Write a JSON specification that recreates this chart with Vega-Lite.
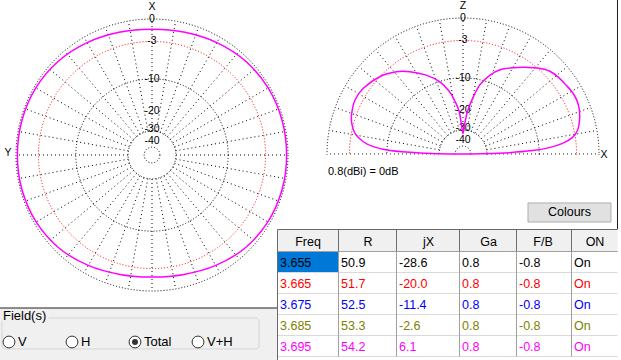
{
  "$schema": "https://vega.github.io/schema/vega-lite/v6.json",
  "width": 621,
  "height": 360,
  "autosize": {"type": "none"},
  "padding": 0,
  "background": "#ffffff",
  "config": {"view": {"stroke": null}},
  "datasets": {
    "spokes": [
      {"deg": 0, "x0": 0, "y0": 0, "x": 1, "y": 0}, {"deg": 10, "x0": 0, "y0": 0, "x": 0.9848, "y": 0.1736}, {"deg": 20, "x0": 0, "y0": 0, "x": 0.9397, "y": 0.342},
      {"deg": 30, "x0": 0, "y0": 0, "x": 0.866, "y": 0.5}, {"deg": 40, "x0": 0, "y0": 0, "x": 0.766, "y": 0.6428}, {"deg": 50, "x0": 0, "y0": 0, "x": 0.6428, "y": 0.766},
      {"deg": 60, "x0": 0, "y0": 0, "x": 0.5, "y": 0.866}, {"deg": 70, "x0": 0, "y0": 0, "x": 0.342, "y": 0.9397}, {"deg": 80, "x0": 0, "y0": 0, "x": 0.1736, "y": 0.9848},
      {"deg": 90, "x0": 0, "y0": 0, "x": 0, "y": 1}, {"deg": 100, "x0": 0, "y0": 0, "x": -0.1736, "y": 0.9848}, {"deg": 110, "x0": 0, "y0": 0, "x": -0.342, "y": 0.9397},
      {"deg": 120, "x0": 0, "y0": 0, "x": -0.5, "y": 0.866}, {"deg": 130, "x0": 0, "y0": 0, "x": -0.6428, "y": 0.766}, {"deg": 140, "x0": 0, "y0": 0, "x": -0.766, "y": 0.6428},
      {"deg": 150, "x0": 0, "y0": 0, "x": -0.866, "y": 0.5}, {"deg": 160, "x0": 0, "y0": 0, "x": -0.9397, "y": 0.342}, {"deg": 170, "x0": 0, "y0": 0, "x": -0.9848, "y": 0.1736},
      {"deg": 180, "x0": 0, "y0": 0, "x": -1, "y": 0}, {"deg": 190, "x0": 0, "y0": 0, "x": -0.9848, "y": -0.1736}, {"deg": 200, "x0": 0, "y0": 0, "x": -0.9397, "y": -0.342},
      {"deg": 210, "x0": 0, "y0": 0, "x": -0.866, "y": -0.5}, {"deg": 220, "x0": 0, "y0": 0, "x": -0.766, "y": -0.6428}, {"deg": 230, "x0": 0, "y0": 0, "x": -0.6428, "y": -0.766},
      {"deg": 240, "x0": 0, "y0": 0, "x": -0.5, "y": -0.866}, {"deg": 250, "x0": 0, "y0": 0, "x": -0.342, "y": -0.9397}, {"deg": 260, "x0": 0, "y0": 0, "x": -0.1736, "y": -0.9848},
      {"deg": 270, "x0": 0, "y0": 0, "x": 0, "y": -1}, {"deg": 280, "x0": 0, "y0": 0, "x": 0.1736, "y": -0.9848}, {"deg": 290, "x0": 0, "y0": 0, "x": 0.342, "y": -0.9397},
      {"deg": 300, "x0": 0, "y0": 0, "x": 0.5, "y": -0.866}, {"deg": 310, "x0": 0, "y0": 0, "x": 0.6428, "y": -0.766}, {"deg": 320, "x0": 0, "y0": 0, "x": 0.766, "y": -0.6428},
      {"deg": 330, "x0": 0, "y0": 0, "x": 0.866, "y": -0.5}, {"deg": 340, "x0": 0, "y0": 0, "x": 0.9397, "y": -0.342}, {"deg": 350, "x0": 0, "y0": 0, "x": 0.9848, "y": -0.1736}
    ],
    "rings": [
      {"ring": "0", "x": 0, "y": 0, "r": 1.0}, {"ring": "-3", "x": 0, "y": 0, "r": 0.835}, {"ring": "-10", "x": 0, "y": 0, "r": 0.56},
      {"ring": "-30", "x": 0, "y": 0, "r": 0.176}, {"ring": "-40", "x": 0, "y": 0, "r": 0.058}
    ],
    "hub": [{"x": 0, "y": 0, "r": 0.17}],
    "ringLabels": [
      {"t": "0", "x": 0, "y": 1.0}, {"t": "-3", "x": 0, "y": 0.84}, {"t": "-10", "x": 0, "y": 0.56},
      {"t": "-20", "x": 0, "y": 0.325}, {"t": "-30", "x": 0, "y": 0.193}, {"t": "-40", "x": 0, "y": 0.105}
    ],
    "horiz": [
      {"i": 0, "freq": "3.695", "x": 0.99, "y": 0}, {"i": 1, "freq": "3.695", "x": 0.956, "y": 0.256},
      {"i": 2, "freq": "3.695", "x": 0.854, "y": 0.493}, {"i": 3, "freq": "3.695", "x": 0.689, "y": 0.689},
      {"i": 4, "freq": "3.695", "x": 0.477, "y": 0.826}, {"i": 5, "freq": "3.695", "x": 0.242, "y": 0.902},
      {"i": 6, "freq": "3.695", "x": 0, "y": 0.925}, {"i": 7, "freq": "3.695", "x": -0.242, "y": 0.902},
      {"i": 8, "freq": "3.695", "x": -0.477, "y": 0.826}, {"i": 9, "freq": "3.695", "x": -0.689, "y": 0.689},
      {"i": 10, "freq": "3.695", "x": -0.854, "y": 0.493}, {"i": 11, "freq": "3.695", "x": -0.956, "y": 0.256},
      {"i": 12, "freq": "3.695", "x": -0.99, "y": 0}, {"i": 13, "freq": "3.695", "x": -0.956, "y": -0.256},
      {"i": 14, "freq": "3.695", "x": -0.852, "y": -0.492}, {"i": 15, "freq": "3.695", "x": -0.684, "y": -0.684},
      {"i": 16, "freq": "3.695", "x": -0.469, "y": -0.812}, {"i": 17, "freq": "3.695", "x": -0.235, "y": -0.878},
      {"i": 18, "freq": "3.695", "x": 0, "y": -0.897}, {"i": 19, "freq": "3.695", "x": 0.235, "y": -0.878},
      {"i": 20, "freq": "3.695", "x": 0.469, "y": -0.812}, {"i": 21, "freq": "3.695", "x": 0.684, "y": -0.684},
      {"i": 22, "freq": "3.695", "x": 0.852, "y": -0.492}, {"i": 23, "freq": "3.695", "x": 0.956, "y": -0.256}
    ],
    "vert": [
      {"i": 0, "freq": "3.695", "x": 0.0, "y": 0.0}, {"i": 1, "freq": "3.695", "x": 0.125, "y": 0.002},
      {"i": 2, "freq": "3.695", "x": 0.34, "y": 0.01}, {"i": 3, "freq": "3.695", "x": 0.512, "y": 0.025},
      {"i": 4, "freq": "3.695", "x": 0.634, "y": 0.047}, {"i": 5, "freq": "3.695", "x": 0.732, "y": 0.078},
      {"i": 6, "freq": "3.695", "x": 0.806, "y": 0.122}, {"i": 7, "freq": "3.695", "x": 0.843, "y": 0.176},
      {"i": 8, "freq": "3.695", "x": 0.857, "y": 0.25}, {"i": 9, "freq": "3.695", "x": 0.855, "y": 0.33},
      {"i": 10, "freq": "3.695", "x": 0.835, "y": 0.4}, {"i": 11, "freq": "3.695", "x": 0.8, "y": 0.46},
      {"i": 12, "freq": "3.695", "x": 0.757, "y": 0.507}, {"i": 13, "freq": "3.695", "x": 0.7, "y": 0.565},
      {"i": 14, "freq": "3.695", "x": 0.635, "y": 0.61}, {"i": 15, "freq": "3.695", "x": 0.55, "y": 0.632},
      {"i": 16, "freq": "3.695", "x": 0.465, "y": 0.637}, {"i": 17, "freq": "3.695", "x": 0.37, "y": 0.635},
      {"i": 18, "freq": "3.695", "x": 0.272, "y": 0.62}, {"i": 19, "freq": "3.695", "x": 0.199, "y": 0.58},
      {"i": 20, "freq": "3.695", "x": 0.125, "y": 0.51}, {"i": 21, "freq": "3.695", "x": 0.076, "y": 0.42},
      {"i": 22, "freq": "3.695", "x": 0.035, "y": 0.32}, {"i": 23, "freq": "3.695", "x": 0.012, "y": 0.22},
      {"i": 24, "freq": "3.695", "x": 0.0, "y": 0.15}, {"i": 25, "freq": "3.695", "x": -0.012, "y": 0.22},
      {"i": 26, "freq": "3.695", "x": -0.03, "y": 0.32}, {"i": 27, "freq": "3.695", "x": -0.064, "y": 0.397},
      {"i": 28, "freq": "3.695", "x": -0.1, "y": 0.46}, {"i": 29, "freq": "3.695", "x": -0.17, "y": 0.53},
      {"i": 30, "freq": "3.695", "x": -0.27, "y": 0.58}, {"i": 31, "freq": "3.695", "x": -0.39, "y": 0.605},
      {"i": 32, "freq": "3.695", "x": -0.49, "y": 0.605}, {"i": 33, "freq": "3.695", "x": -0.61, "y": 0.57},
      {"i": 34, "freq": "3.695", "x": -0.733, "y": 0.483}, {"i": 35, "freq": "3.695", "x": -0.794, "y": 0.397},
      {"i": 36, "freq": "3.695", "x": -0.818, "y": 0.3}, {"i": 37, "freq": "3.695", "x": -0.818, "y": 0.226},
      {"i": 38, "freq": "3.695", "x": -0.794, "y": 0.152}, {"i": 39, "freq": "3.695", "x": -0.733, "y": 0.09},
      {"i": 40, "freq": "3.695", "x": -0.66, "y": 0.054}, {"i": 41, "freq": "3.695", "x": -0.537, "y": 0.025},
      {"i": 42, "freq": "3.695", "x": -0.316, "y": 0.007}, {"i": 43, "freq": "3.695", "x": -0.1, "y": 0.0},
      {"i": 44, "freq": "3.695", "x": 0.0, "y": 0.0}
    ],
    "table": [
      {"Freq": 3.655, "R": 50.9, "jX": -28.6, "Ga": 0.8, "FB": -0.8, "ON": "On"},
      {"Freq": 3.665, "R": 51.7, "jX": -20.0, "Ga": 0.8, "FB": -0.8, "ON": "On"},
      {"Freq": 3.675, "R": 52.5, "jX": -11.4, "Ga": 0.8, "FB": -0.8, "ON": "On"},
      {"Freq": 3.685, "R": 53.3, "jX": -2.6, "Ga": 0.8, "FB": -0.8, "ON": "On"},
      {"Freq": 3.695, "R": 54.2, "jX": 6.1, "Ga": 0.8, "FB": -0.8, "ON": "On"}
    ],
    "columns": [
      {"key": "Freq", "col": 0, "h": "Freq", "r": 0}, {"key": "R", "col": 1, "h": "R", "r": 0}, {"key": "jX", "col": 2, "h": "jX", "r": 0},
      {"key": "Ga", "col": 3, "h": "Ga", "r": 0}, {"key": "FB", "col": 4, "h": "F/B", "r": 0}, {"key": "ON", "col": 5, "h": "ON", "r": 0}
    ]
  },
  "layer": [
    {
      "layer": [
        {
          "data": {"values": [{"x1": -1.118, "x2": 0.919, "y1": -1.125, "y2": -1.52}]},
          "mark": {"type": "rect", "fill": "#f0f0f0"},
          "encoding": {
            "x": {"field": "x1", "type": "quantitative", "scale": {"domain": [-1, 1], "range": [16, 288], "nice": false, "zero": false}, "axis": null},
            "x2": {"field": "x2"},
            "y": {"field": "y1", "type": "quantitative", "scale": {"domain": [-1, 1], "range": [291, 19], "nice": false, "zero": false}, "axis": null},
            "y2": {"field": "y2"}
          }
        },
        {
          "data": {"values": [{"x1": -1.118, "x2": 0.919, "y1": -1.125}]},
          "mark": {"type": "rule", "color": "#1e1e1e", "strokeWidth": 1},
          "encoding": {
            "x": {"field": "x1", "type": "quantitative", "axis": null}, "x2": {"field": "x2"},
            "y": {"field": "y1", "type": "quantitative", "axis": null}
          }
        },
        {
          "data": {"values": [{"x1": -1.103, "x2": 0.787, "y1": -1.199, "y2": -1.426}]},
          "mark": {"type": "rect", "fill": "#f0f0f0", "stroke": "#d5d5d5", "strokeWidth": 1, "cornerRadius": 3},
          "encoding": {
            "x": {"field": "x1", "type": "quantitative", "axis": null}, "x2": {"field": "x2"},
            "y": {"field": "y1", "type": "quantitative", "axis": null}, "y2": {"field": "y2"}
          }
        },
        {
          "data": {"values": [{"x1": -1.108, "x2": -0.76, "y1": -1.14, "y2": -1.22}]},
          "mark": {"type": "rect", "fill": "#f0f0f0"},
          "encoding": {
            "x": {"field": "x1", "type": "quantitative", "axis": null}, "x2": {"field": "x2"},
            "y": {"field": "y1", "type": "quantitative", "axis": null}, "y2": {"field": "y2"}
          }
        },
        {
          "data": {"values": [{"t": "Field(s)", "x": -1.096, "y": -1.184}]},
          "mark": {"type": "text", "align": "left", "baseline": "middle", "fontSize": 13, "font": "Liberation Sans", "color": "#000000"},
          "encoding": {
            "x": {"field": "x", "type": "quantitative", "axis": null},
            "y": {"field": "y", "type": "quantitative", "axis": null},
            "text": {"field": "t", "type": "nominal"}
          }
        },
        {
          "data": {"name": "spokes"},
          "mark": {"type": "rule", "color": "#000000", "strokeWidth": 1, "strokeDash": [1, 3]},
          "encoding": {
            "x": {"field": "x0", "type": "quantitative", "axis": null},
            "y": {"field": "y0", "type": "quantitative", "axis": null},
            "x2": {"field": "x"},
            "y2": {"field": "y"}
          }
        },
        {
          "data": {"name": "hub"},
          "mark": {"type": "point", "shape": "circle", "filled": true, "fill": "#ffffff", "strokeWidth": 0, "opacity": 1},
          "encoding": {
            "x": {"field": "x", "type": "quantitative", "axis": null},
            "y": {"field": "y", "type": "quantitative", "axis": null},
            "size": {"field": "r", "type": "quantitative", "scale": {"type": "pow", "exponent": 2, "domain": [0, 1], "range": [0, 73984]}, "legend": null}
          }
        },
        {
          "data": {"name": "rings"},
          "mark": {"type": "point", "shape": "circle", "filled": false, "strokeWidth": 1, "strokeDash": [1, 2], "opacity": 1},
          "encoding": {
            "x": {"field": "x", "type": "quantitative", "axis": null},
            "y": {"field": "y", "type": "quantitative", "axis": null},
            "size": {"field": "r", "type": "quantitative", "scale": {"type": "pow", "exponent": 2, "domain": [0, 1], "range": [0, 73984]}, "legend": null},
            "stroke": {"field": "ring", "type": "nominal", "scale": {"domain": ["0", "-3", "-10", "-30", "-40"], "range": ["#000000", "#ff0000", "#000000", "#000000", "#000000"]}, "legend": null}
          }
        },
        {
          "data": {"name": "ringLabels"},
          "mark": {"type": "text", "fontSize": 10.5, "font": "Liberation Sans", "baseline": "middle", "align": "center", "color": "#000000"},
          "encoding": {
            "x": {"field": "x", "type": "quantitative", "axis": null},
            "y": {"field": "y", "type": "quantitative", "axis": null},
            "text": {"field": "t", "type": "nominal"}
          }
        },
        {
          "data": {"values": [{"t": "X", "x": 0, "y": 1.09}, {"t": "Y", "x": -1.059, "y": 0.015}]},
          "mark": {"type": "text", "fontSize": 10.5, "font": "Liberation Sans", "baseline": "middle", "align": "center", "color": "#000000"},
          "encoding": {
            "x": {"field": "x", "type": "quantitative", "axis": null},
            "y": {"field": "y", "type": "quantitative", "axis": null},
            "text": {"field": "t", "type": "nominal"}
          }
        },
        {
          "data": {"name": "horiz"},
          "mark": {"type": "line", "interpolate": "cardinal-closed", "strokeWidth": 1.5},
          "encoding": {
            "x": {"field": "x", "type": "quantitative", "axis": null},
            "y": {"field": "y", "type": "quantitative", "axis": null},
            "order": {"field": "i", "type": "quantitative"},
            "color": {"field": "freq", "type": "nominal", "scale": {"domain": ["3.695"], "range": ["#ff00ff"]}, "legend": null}
          }
        }
      ]
    },
    {
      "layer": [
        {
          "data": {"name": "spokes"},
          "transform": [{"filter": "datum.deg <= 180"}],
          "mark": {"type": "rule", "color": "#000000", "strokeWidth": 1, "strokeDash": [1, 3]},
          "encoding": {
            "x": {"field": "x0", "type": "quantitative", "scale": {"domain": [-1, 1], "range": [327, 599], "nice": false, "zero": false}, "axis": null},
            "y": {"field": "y0", "type": "quantitative", "scale": {"domain": [-1, 1], "range": [290, 18], "nice": false, "zero": false}, "axis": null},
            "x2": {"field": "x"},
            "y2": {"field": "y"}
          }
        },
        {
          "data": {"name": "hub"},
          "mark": {"type": "point", "shape": "circle", "filled": true, "fill": "#ffffff", "strokeWidth": 0, "opacity": 1},
          "encoding": {
            "x": {"field": "x", "type": "quantitative", "axis": null},
            "y": {"field": "y", "type": "quantitative", "axis": null},
            "size": {"field": "r", "type": "quantitative", "scale": {"type": "pow", "exponent": 2, "domain": [0, 1], "range": [0, 73984]}, "legend": null}
          }
        },
        {
          "data": {"name": "rings"},
          "mark": {"type": "point", "shape": "circle", "filled": false, "strokeWidth": 1, "strokeDash": [1, 2], "opacity": 1},
          "encoding": {
            "x": {"field": "x", "type": "quantitative", "axis": null},
            "y": {"field": "y", "type": "quantitative", "axis": null},
            "size": {"field": "r", "type": "quantitative", "scale": {"type": "pow", "exponent": 2, "domain": [0, 1], "range": [0, 73984]}, "legend": null},
            "stroke": {"field": "ring", "type": "nominal", "scale": {"domain": ["0", "-3", "-10", "-30", "-40"], "range": ["#000000", "#ff0000", "#000000", "#000000", "#000000"]}, "legend": null}
          }
        },
        {
          "data": {"values": [{"x1": -1.06, "x2": 1.06, "y1": -0.005, "y2": -1.02}]},
          "mark": {"type": "rect", "fill": "#ffffff"},
          "encoding": {
            "x": {"field": "x1", "type": "quantitative", "axis": null}, "x2": {"field": "x2"},
            "y": {"field": "y1", "type": "quantitative", "axis": null}, "y2": {"field": "y2"}
          }
        },
        {
          "data": {"name": "ringLabels"},
          "mark": {"type": "text", "fontSize": 10.5, "font": "Liberation Sans", "baseline": "middle", "align": "center", "color": "#000000"},
          "encoding": {
            "x": {"field": "x", "type": "quantitative", "axis": null},
            "y": {"field": "y", "type": "quantitative", "axis": null},
            "text": {"field": "t", "type": "nominal"}
          }
        },
        {
          "data": {"values": [{"t": "Z", "x": 0, "y": 1.09}, {"t": "X", "x": 1.037, "y": -0.005}]},
          "mark": {"type": "text", "fontSize": 10.5, "font": "Liberation Sans", "baseline": "middle", "align": "center", "color": "#000000"},
          "encoding": {
            "x": {"field": "x", "type": "quantitative", "axis": null},
            "y": {"field": "y", "type": "quantitative", "axis": null},
            "text": {"field": "t", "type": "nominal"}
          }
        },
        {
          "data": {"name": "vert"},
          "mark": {"type": "line", "interpolate": "cardinal", "strokeWidth": 1.5},
          "encoding": {
            "x": {"field": "x", "type": "quantitative", "axis": null},
            "y": {"field": "y", "type": "quantitative", "axis": null},
            "order": {"field": "i", "type": "quantitative"},
            "color": {"field": "freq", "type": "nominal", "scale": {"domain": ["3.695"], "range": ["#ff00ff"]}, "legend": null}
          }
        },
        {
          "data": {"values": [{"t": "0.8(dBi) = 0dB", "x": -0.993, "y": -0.132}]},
          "mark": {"type": "text", "fontSize": 11, "font": "Liberation Sans", "baseline": "middle", "align": "left", "color": "#000000"},
          "encoding": {
            "x": {"field": "x", "type": "quantitative", "axis": null},
            "y": {"field": "y", "type": "quantitative", "axis": null},
            "text": {"field": "t", "type": "nominal"}
          }
        },
        {
          "data": {"values": [{"x1": 0.478, "x2": 1.088, "y1": -0.36, "y2": -0.5}]},
          "mark": {"type": "rect", "fill": "#e1e1e1", "stroke": "#adadad", "strokeWidth": 1},
          "encoding": {
            "x": {"field": "x1", "type": "quantitative", "axis": null}, "x2": {"field": "x2"},
            "y": {"field": "y1", "type": "quantitative", "axis": null}, "y2": {"field": "y2"}
          }
        },
        {
          "data": {"values": [{"t": "Colours", "x": 0.783, "y": -0.43}]},
          "mark": {"type": "text", "fontSize": 12.5, "font": "Liberation Sans", "baseline": "middle", "align": "center", "color": "#000000"},
          "encoding": {
            "x": {"field": "x", "type": "quantitative", "axis": null},
            "y": {"field": "y", "type": "quantitative", "axis": null},
            "text": {"field": "t", "type": "nominal"}
          }
        },
        {
          "data": {"values": [{"x": 1.136, "y1": 1.135, "y2": -0.551}]},
          "mark": {"type": "rule", "color": "#1e1e1e", "strokeWidth": 1},
          "encoding": {
            "x": {"field": "x", "type": "quantitative", "axis": null},
            "y": {"field": "y1", "type": "quantitative", "axis": null}, "y2": {"field": "y2"}
          }
        }
      ]
    },
    {
      "layer": [
        {
          "data": {"values": [{"x1": 0, "x2": 6, "y1": 0, "y2": 6.2}]},
          "mark": {"type": "rect", "fill": "#ffffff"},
          "encoding": {
            "x": {"field": "x1", "type": "quantitative", "scale": {"type": "linear", "domain": [0, 1, 2, 3, 4, 5, 6], "range": [277.5, 338.5, 396.5, 459.5, 516.5, 571.5, 617.5], "nice": false, "zero": false}, "axis": null},
            "x2": {"field": "x2"},
            "y": {"field": "y1", "type": "quantitative", "scale": {"type": "linear", "domain": [0, 1, 2, 3, 4, 5, 6], "range": [229.5, 251.5, 272.5, 293.5, 314.5, 335.5, 356.5], "nice": false, "zero": false}, "axis": null},
            "y2": {"field": "y2"}
          }
        },
        {
          "data": {"values": [{"x1": 0, "x2": 6, "y1": 0, "y2": 1}]},
          "mark": {"type": "rect", "fill": "#f0f0f0"},
          "encoding": {
            "x": {"field": "x1", "type": "quantitative", "axis": null}, "x2": {"field": "x2"},
            "y": {"field": "y1", "type": "quantitative", "axis": null}, "y2": {"field": "y2"}
          }
        },
        {
          "data": {"values": [{"x1": 0, "x2": 1, "y1": 1, "y2": 2}]},
          "mark": {"type": "rect", "fill": "#0078d7"},
          "encoding": {
            "x": {"field": "x1", "type": "quantitative", "axis": null}, "x2": {"field": "x2"},
            "y": {"field": "y1", "type": "quantitative", "axis": null}, "y2": {"field": "y2"}
          }
        },
        {
          "data": {"values": [{"y1": 2, "x1": 0, "x2": 6}, {"y1": 3, "x1": 0, "x2": 6}, {"y1": 4, "x1": 0, "x2": 6}, {"y1": 5, "x1": 0, "x2": 6}, {"y1": 6, "x1": 0, "x2": 6}]},
          "mark": {"type": "rule", "color": "#dadada", "strokeWidth": 1},
          "encoding": {
            "y": {"field": "y1", "type": "quantitative", "axis": null},
            "x": {"field": "x1", "type": "quantitative", "axis": null}, "x2": {"field": "x2"}
          }
        },
        {
          "data": {"values": [{"x1": 1, "y1": 1, "y2": 6}, {"x1": 2, "y1": 1, "y2": 6}, {"x1": 3, "y1": 1, "y2": 6}, {"x1": 4, "y1": 1, "y2": 6}, {"x1": 5, "y1": 1, "y2": 6}]},
          "mark": {"type": "rule", "color": "#a0a0a0", "strokeWidth": 1},
          "encoding": {
            "x": {"field": "x1", "type": "quantitative", "axis": null},
            "y": {"field": "y1", "type": "quantitative", "axis": null}, "y2": {"field": "y2"}
          }
        },
        {
          "data": {"values": [{"x1": 1, "y1": 0, "y2": 1}, {"x1": 2, "y1": 0, "y2": 1}, {"x1": 3, "y1": 0, "y2": 1}, {"x1": 4, "y1": 0, "y2": 1}, {"x1": 5, "y1": 0, "y2": 1}]},
          "mark": {"type": "rule", "color": "#6e6e6e", "strokeWidth": 1},
          "encoding": {
            "x": {"field": "x1", "type": "quantitative", "axis": null},
            "y": {"field": "y1", "type": "quantitative", "axis": null}, "y2": {"field": "y2"}
          }
        },
        {
          "data": {"values": [{"y1": 1, "x1": 0, "x2": 6}]},
          "mark": {"type": "rule", "color": "#a0a0a0", "strokeWidth": 1},
          "encoding": {
            "y": {"field": "y1", "type": "quantitative", "axis": null},
            "x": {"field": "x1", "type": "quantitative", "axis": null}, "x2": {"field": "x2"}
          }
        },
        {
          "data": {"values": [{"y1": 0, "x1": 0, "x2": 6}]},
          "mark": {"type": "rule", "color": "#696969", "strokeWidth": 1},
          "encoding": {
            "y": {"field": "y1", "type": "quantitative", "axis": null},
            "x": {"field": "x1", "type": "quantitative", "axis": null}, "x2": {"field": "x2"}
          }
        },
        {
          "data": {"values": [{"x1": 0, "y1": 0, "y2": 6.2}]},
          "mark": {"type": "rule", "color": "#696969", "strokeWidth": 1},
          "encoding": {
            "x": {"field": "x1", "type": "quantitative", "axis": null},
            "y": {"field": "y1", "type": "quantitative", "axis": null}, "y2": {"field": "y2"}
          }
        }
      ]
    },
    {
      "data": {"name": "columns"},
      "mark": {"type": "text", "fontSize": 12.5, "font": "Liberation Sans", "color": "#000000", "baseline": "middle", "align": "center"},
      "encoding": {
        "x": {"field": "col", "type": "quantitative", "scale": {"type": "linear", "domain": [0, 1, 2, 3, 4, 5], "range": [308, 368, 428.5, 488.5, 543, 595], "nice": false, "zero": false}, "axis": null},
        "y": {"field": "r", "type": "quantitative", "scale": {"domain": [0, 1], "range": [241.5, 262.5], "nice": false, "zero": false}, "axis": null},
        "text": {"field": "h", "type": "nominal"}
      }
    },
    {
      "data": {"name": "table"},
      "layer": [
        {
          "transform": [
            {"fold": ["R", "jX", "Ga", "FB"], "as": ["key", "value"]},
            {"lookup": "key", "from": {"data": {"name": "columns"}, "key": "key", "fields": ["col"]}},
            {"calculate": "replace(format(datum.value, '.1f'), '\u2212', '-')", "as": "label"}
          ],
          "mark": {"type": "text", "fontSize": 12.5, "font": "Liberation Sans", "baseline": "middle", "align": "left", "dx": 2},
          "encoding": {
            "x": {"field": "col", "type": "quantitative", "scale": {"type": "linear", "domain": [0, 1, 2, 3, 4, 5], "range": [278, 339, 397, 460, 517, 572], "nice": false, "zero": false}, "axis": null},
            "y": {"field": "Freq", "type": "ordinal", "scale": {"type": "point", "range": [263, 347], "padding": 0}, "axis": null},
            "color": {"field": "Freq", "type": "nominal", "scale": {"range": ["#000000", "#ff0000", "#0000ff", "#808000", "#ff00ff"]}, "legend": null},
            "text": {"field": "label", "type": "nominal"}
          }
        },
        {
          "transform": [
            {"fold": ["Freq", "ON"], "as": ["key", "value"]},
            {"lookup": "key", "from": {"data": {"name": "columns"}, "key": "key", "fields": ["col"]}}
          ],
          "mark": {"type": "text", "fontSize": 12.5, "font": "Liberation Sans", "baseline": "middle", "align": "left", "dx": 2},
          "encoding": {
            "x": {"field": "col", "type": "quantitative", "axis": null},
            "y": {"field": "Freq", "type": "ordinal", "axis": null},
            "color": {"field": "Freq", "type": "nominal", "legend": null},
            "text": {"field": "value", "type": "nominal"}
          }
        }
      ]
    },
    {
      "data": {"values": [{"opt": "V", "on": false, "grp": "Field(s)"}, {"opt": "H", "on": false, "grp": "Field(s)"}, {"opt": "Total", "on": true, "grp": "Field(s)"}, {"opt": "V+H", "on": false, "grp": "Field(s)"}]},
      "encoding": {
        "x": {"field": "opt", "type": "nominal", "sort": null, "scale": {"type": "point", "domain": ["V", "H", "Total", "V+H"], "range": [9, 198], "padding": 0}, "axis": null},
        "y": {"field": "grp", "type": "nominal", "scale": {"type": "point", "range": [330, 354], "padding": 0.5}, "axis": null}
      },
      "layer": [
        {"mark": {"type": "point", "shape": "circle", "filled": true, "fill": "#ffffff", "stroke": "#333333", "strokeWidth": 1, "size": 140, "opacity": 1}},
        {"transform": [{"filter": "datum.on"}], "mark": {"type": "point", "shape": "circle", "filled": true, "fill": "#333333", "size": 36, "strokeWidth": 0, "opacity": 1}},
        {"mark": {"type": "text", "align": "left", "baseline": "middle", "dx": 9, "fontSize": 13, "font": "Liberation Sans", "color": "#000000"}, "encoding": {"text": {"field": "opt", "type": "nominal"}}}
      ]
    }
  ],
  "resolve": {"scale": {"x": "independent", "y": "independent", "color": "independent", "stroke": "independent", "size": "independent"}}
}
